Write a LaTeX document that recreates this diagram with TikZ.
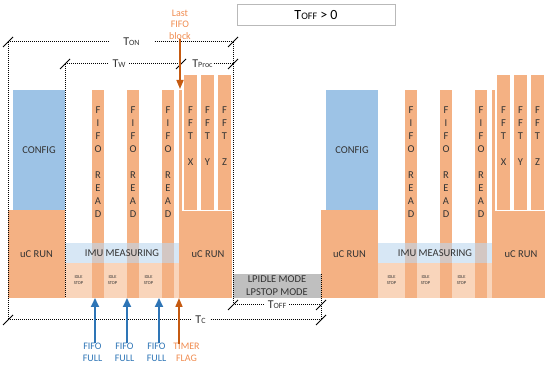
\documentclass[tikz,border=0pt]{standalone}
\usepackage{fontspec}
\setmainfont{Carlito}
\usetikzlibrary{arrows.meta}
\definecolor{cOr}{HTML}{F4B183}
\definecolor{cBl}{HTML}{9DC3E6}
\definecolor{cBand}{HTML}{BDD7EE}
\definecolor{cIdle}{HTML}{F9D5BB}
\definecolor{cGr}{HTML}{BFBFBF}
\definecolor{cTxt}{HTML}{333333}
\definecolor{cArB}{HTML}{2E75B6}
\definecolor{cArO}{HTML}{C55A11}
\definecolor{cLab}{HTML}{F08C50}
\newcommand\Tlab[1]{{\fontsize{12}{13}\selectfont T}{\fontsize{8}{9}\selectfont #1}}
\begin{document}
\begin{tikzpicture}[x=1pt,y=-1pt,
  every node/.style={inner sep=0pt,outer sep=0pt},
  txt/.style={font=\fontsize{10.5}{13}\selectfont,text=cTxt},
  blk/.style={anchor=north west,inner sep=0pt,outer sep=0pt},
  vtxt/.style={txt,align=center,anchor=north},
  idle/.style={font=\fontsize{4.5}{6}\selectfont,text=cTxt,align=center},
  lab/.style={font=\fontsize{10}{11.5}\selectfont,align=center},
  dimln/.style={draw=black,line width=1pt,dash pattern=on 1pt off 1pt},
  dimlab/.style={text=cTxt,inner ysep=0pt},
  tk/.style={draw=black,line width=0.8pt},
  arrB/.style={draw=cArB,line width=1.8pt,-{Triangle[width=8pt,length=9pt]}},
  arrO/.style={draw=cArO,line width=1.6pt,-{Triangle[width=7pt,length=9pt]}}]
\useasboundingbox (0,0) rectangle (550,366);

\foreach \p/\dx in {a/0,b/313}{
\begin{scope}[xshift=\dx]
  \fill[cIdle] (65,263) rectangle (180,298);
  \node[blk,fill=cOr,minimum width=57pt,minimum height=88pt,txt] (\p-run1) at (8,210) {uC RUN};
  \node[blk,fill=cBl,minimum width=52pt,minimum height=120pt,txt] (\p-cfg) at (13,90) {CONFIG};
  \node[blk,fill=cOr,minimum width=51pt,minimum height=87pt,txt] (\p-run2) at (181,211) {\hspace*{3pt}uC RUN};
  \foreach \i/\x in {1/92,2/127,3/162}{
    \node[blk,fill=cOr,minimum width=12pt,minimum height=208pt] (\p-fr\i) at (\x,90) {};
    \node[vtxt,yshift=-16.5pt] at (\p-fr\i.north) {F\\I\\F\\O\\[13pt]R\\E\\A\\D};
  }
  \node[blk,fill=cOr,minimum width=3pt,minimum height=208pt] (\p-thin) at (179,90) {};
  \foreach \i/\x in {X/184,Y/201,Z/218}{
    \node[blk,fill=cOr,minimum width=13pt,minimum height=135pt] (\p-fft\i) at (\x,75) {};
    \node[vtxt,yshift=-31.5pt] at (\p-fft\i.north) {F\\F\\T\\[13pt]\i};
  }
  \node[blk,fill=cBand,fill opacity=0.6,minimum width=114pt,minimum height=20pt] (\p-band) at (65,243) {};
  \node[txt] (\p-imu) at (\p-band.center) {IMU MEASURING};
  \foreach \x [count=\k] in {78.5,112.5,148.5}
    \node[idle] (\p-idle\k) at (\x,280) {IDLE\\STOP};
\end{scope}}

% low power box
\node[blk,fill=cGr,minimum width=88pt,minimum height=24pt,txt,align=center] (lp) at (233,274) {LPIDLE MODE\\LPSTOP MODE};

% title box
\node[blk,draw=gray!55,line width=1pt,fill=white,minimum width=158pt,minimum height=21pt] (tbox) at (237,5)
  {\color{black}{\fontsize{14}{15}\selectfont T}{\fontsize{10}{11}\selectfont OFF}{\fontsize{14}{15}\selectfont{} > 0}};

% dimension coordinates
\coordinate (ton-l) at (8,42);
\coordinate (ton-r) at (233,42);
\coordinate (tw-l) at (65,64);
\coordinate (tw-r) at (181,64);
\coordinate (tp-r) at (233,64);
\coordinate (vw-b) at (65,298);
\coordinate (tc-l) at (8,320);
\coordinate (tc-r) at (321,320);
\coordinate (toff-l) at (233,305);
\coordinate (toff-r) at (321,305);

\node[dimlab,inner xsep=15pt] (ton) at (131.5,42) {\Tlab{ON}};
\node[dimlab,inner xsep=4pt] (tw) at (119,64) {\Tlab{W}};
\node[dimlab,inner xsep=1pt] (tp) at (202.5,64) {\Tlab{Proc}};
\node[dimlab,inner xsep=5pt] (tc) at (200.5,320) {\Tlab{C}};
\node[dimlab,inner xsep=3pt] (toff) at (277,305) {\Tlab{OFF}};

\draw[dimln] (ton-l) -- (ton.west) (ton.east) -- (ton-r);
\draw[dimln] (tw-l) -- (tw.west) (tw.east) -- (tw-r);
\draw[dimln] (tp.east) -- (tp-r);
\draw[dimln] (tc-l) -- (tc.west) (tc.east) -- (tc-r);
\draw[dimln] (toff-l) -- (toff.west) (toff.east) -- (toff-r);
\draw[dimln] (ton-l) -- (tc-l);
\draw[dimln] (tw-l) -- (vw-b);
\draw[dimln] (ton-r) -- (toff-l);
\draw[dimln] (lp.north east) -- (tc-r);
\foreach \c in {ton-l,ton-r,tw-l,tw-r,tp-r,tc-l,tc-r,toff-l,toff-r}
  \draw[tk] (\c) +(-5,5) -- +(5,-5);

% last FIFO block
\node[lab,text=cLab] (lfb) at (180,24.5) {Last\\FIFO\\block};
\coordinate (lfbt) at (180,89);
\draw[arrO] (lfb.south) -- (lfbt);

% FIFO full arrows
\foreach \k/\lx/\ax in {1/92.5/95,2/124.5/127,3/156.5/159}{
  \node[lab,text=cArB] (ff\k) at (\lx,352.5) {FIFO\\FULL};
  \coordinate (ff\k t) at (\ax,298);
  \draw[arrB] (ff\k.north -| ff\k t) -- (ff\k t);
}
\node[lab,text=cLab] (tf) at (186.5,352.5) {TIMER\\FLAG};
\coordinate (tft) at (179,298);
\draw[arrO] (tf.north -| tft) -- (tft);
\end{tikzpicture}
\end{document}
